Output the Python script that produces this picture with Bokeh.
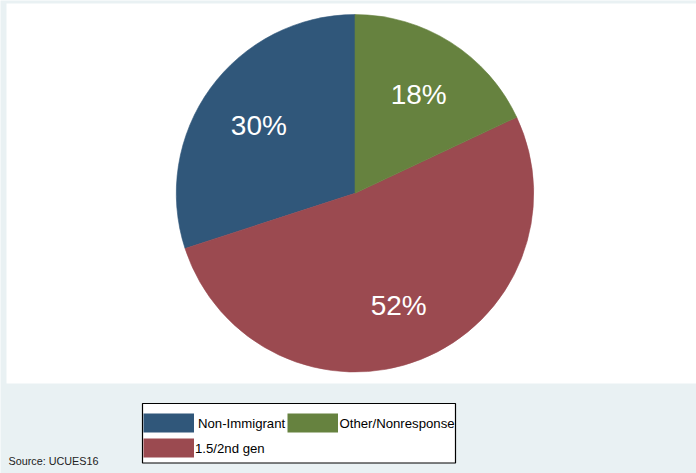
import math
from bokeh.plotting import figure
from bokeh.models import Range1d, BoxAnnotation, ColumnDataSource
from bokeh.core.properties import value
from bokeh.embed import file_html
from bokeh.resources import INLINE

# ---- data ----
categories = ["Non-Immigrant", "1.5/2nd gen", "Other/Nonresponse"]
shares = [30, 52, 18]
colors = ["#30577a", "#9b4a50", "#66823f"]
legend_order = ["Non-Immigrant", "Other/Nonresponse", "1.5/2nd gen"]
source_note = "Source: UCUES16"

W, H = 696, 473
BG = "#e9f1f3"
FONT = value("Liberation Sans, Arial, sans-serif")

def sy(y):  # screen y -> data y
    return H - y

p = figure(width=W, height=H, output_backend="svg", toolbar_location=None,
           x_range=Range1d(0, W), y_range=Range1d(0, H), min_border=0,
           background_fill_color=BG, border_fill_color=BG, outline_line_color=None)
p.axis.visible = False
p.grid.visible = False

# white plot region
p.add_layout(BoxAnnotation(left=6, right=W, bottom=sy(383), top=sy(3),
                           fill_color="white", fill_alpha=1, line_color=None, level="underlay"))

# pie
cx, cy, R = 354.5, sy(192.8), 178.7
total = sum(shares)
starts, ends, mids = [], [], []
acc = math.pi / 2
for s in shares:
    a = s / total * 2 * math.pi
    starts.append(acc)
    ends.append(acc + a)
    mids.append(acc + a / 2)
    acc += a
src = ColumnDataSource(dict(start=starts, end=ends, color=colors))
p.wedge(x=cx, y=cy, radius=R, start_angle="start", end_angle="end", direction="anticlock",
        fill_color="color", line_color="color", line_width=0.6, source=src)

lr = 0.665 * R
lsrc = ColumnDataSource(dict(
    x=[cx + lr * math.cos(m) for m in mids],
    y=[cy + lr * math.sin(m) - 2 for m in mids],
    t=[f"{s}%" for s in shares]))
p.text(x="x", y="y", text="t", source=lsrc, text_color="white", text_align="center",
       text_baseline="middle", text_font=FONT, text_font_size="28px")

# legend (manual, Stata style)
p.quad(left=[142], right=[455], bottom=[sy(462.5)], top=[sy(403)],
       fill_color="white", line_color="black", line_width=1.2)
col_of = dict(zip(categories, colors))
key_x = [143, 287, 143]
key_y = [413, 413, 438]
txt_x = [197.5, 339, 194.5]
kw, kh = 50.5, 19
ksrc = ColumnDataSource(dict(
    left=key_x, right=[k + kw for k in key_x],
    top=[sy(y) for y in key_y], bottom=[sy(y + kh) for y in key_y],
    color=[col_of[c] for c in legend_order]))
p.quad(left="left", right="right", top="top", bottom="bottom", fill_color="color",
       line_color=None, source=ksrc)
tsrc = ColumnDataSource(dict(x=txt_x, y=[sy(y + kh / 2) for y in key_y], t=legend_order))
p.text(x="x", y="y", text="t", source=tsrc, text_color="black", text_align="left",
       text_baseline="middle", text_font=FONT, text_font_size="13.2px")

p.text(x=[8], y=[sy(460.5)], text=[source_note], text_color="#222222", text_align="left",
       text_baseline="middle", text_font=FONT, text_font_size="10.8px")

open("out.html", "w").write(file_html(p, INLINE))
